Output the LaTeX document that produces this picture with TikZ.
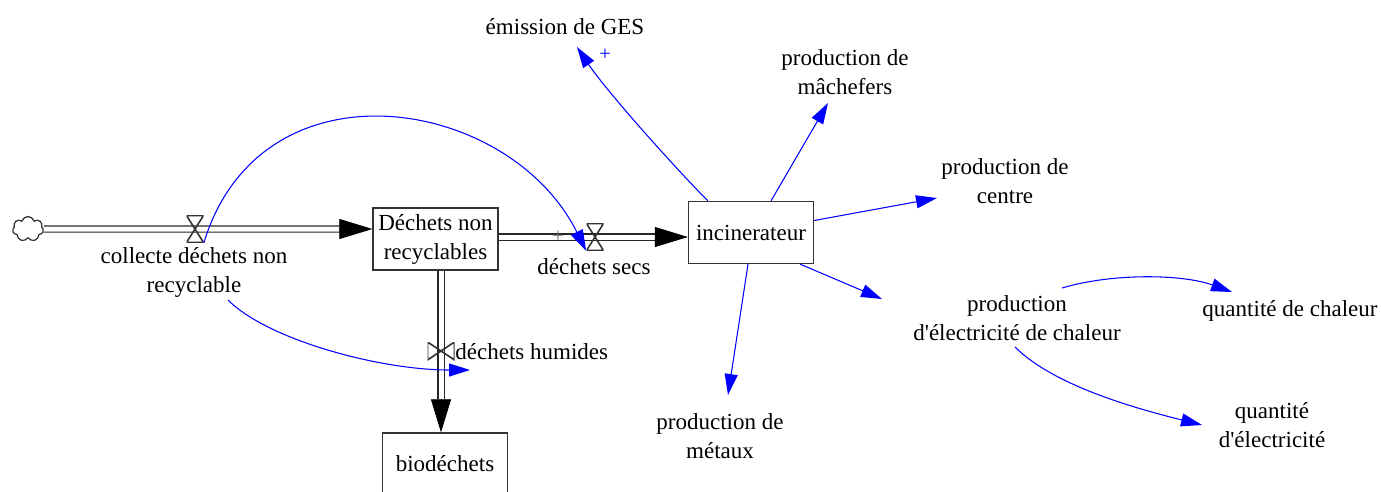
\documentclass[tikz,border=0pt]{standalone}
\usepackage{fontspec}
\newfontfamily\vensimfont{Liberation Serif}
\usetikzlibrary{arrows.meta,calc,shapes.symbols,backgrounds}

\tikzset{
  stockbox/.style={draw=black!80, line width=0.75pt, minimum width=2.5cm, minimum height=1.24cm, align=center, inner sep=1pt},
  lbl/.style={align=center, inner sep=0pt},
  pipe/.style={draw=black!85, line width=0.7pt, double=white, double distance=0.1cm},
  pipetip/.style={-{Triangle[length=0.66cm,width=0.4cm]}, line width=0.4pt, black},
  link/.style={blue, line width=0.6pt, -{Triangle[length=0.42cm,width=0.26cm]}},
  valvev/.style={minimum width=0.34cm, minimum height=0.54cm, inner sep=0pt,
    path picture={\draw[black!80, line width=0.9pt] (path picture bounding box.north west) -- (path picture bounding box.north east) -- (path picture bounding box.south west) -- (path picture bounding box.south east) -- cycle;}},
  valveh/.style={minimum width=0.54cm, minimum height=0.36cm, inner sep=0pt,
    path picture={\draw[black!80, line width=0.9pt] (path picture bounding box.north west) -- (path picture bounding box.south west) -- (path picture bounding box.north east) -- (path picture bounding box.south east) -- cycle;}},
}

\begin{document}
\begin{tikzpicture}[x=0.02cm, y=-0.02cm, font=\vensimfont\fontsize{13.1}{16.5}\selectfont]
  \useasboundingbox (0,0) rectangle (1381,491);

  % stocks and source
  \node[stockbox] (stock) at (435.5,239) {Déchets non\\recyclables};
  \node[stockbox] (inc) at (751,232.5) {incinerateur};
  \node[stockbox] (bio) at (445,464) {biodéchets};
  \node[cloud, draw=black!80, line width=0.7pt, cloud puffs=7, minimum width=0.62cm, minimum height=0.5cm, inner sep=0pt] (src) at (28,229) {};

  % valves
  \node[valvev] (vcol) at (195,229) {};
  \node[valvev] (vsec) at (595,237) {};
  \node[valveh] (vhum) at (441,351) {};

  % labels
  \node[lbl] (lcol) at (194,272) {collecte déchets non\\recyclable};
  \node[lbl] (lsec) at (594,267) {déchets secs};
  \node[lbl, anchor=west] (lhum) at (455,352) {déchets humides};
  \node[lbl, black!55, font=\vensimfont\fontsize{11.5}{12}\selectfont] (psec) at (558,237) {+};
  \node[lbl] (ges) at (565,27) {émission de GES};
  \node[lbl, blue, font=\vensimfont\fontsize{11.5}{12}\selectfont] (pges) at (605,55) {+};
  \node[lbl] (mach) at (845,72) {production de\\mâchefers};
  \node[lbl] (cent) at (1005,181) {production de\\centre};
  \node[lbl] (elec) at (1017,318) {production\\d'électricité de chaleur};
  \node[lbl] (chal) at (1290,311) {quantité de chaleur};
  \node[lbl] (qel) at (1272,425) {quantité\\d'électricité};
  \node[lbl] (met) at (720,436) {production de\\métaux};

  % pipes
  \coordinate (t1) at ($(stock.west |- vcol)+(-33,0)$);
  \coordinate (t2) at ($(inc.west |- vsec)+(-33,0)$);
  \coordinate (t3) at ($(vhum |- bio.north)+(0,-33)$);
  \begin{scope}[on background layer]
    \draw[pipe] (src.east) -- (t1);
    \draw[pipetip] (t1) -- (stock.west |- vcol);
    \draw[pipe] (stock.east |- vsec) -- (t2);
    \draw[pipetip] (t2) -- (inc.west |- vsec);
    \draw[pipe] (vhum |- stock.south) -- (t3);
    \draw[pipetip] (t3) -- (vhum |- bio.north);
  \end{scope}

  % links
  \draw[link] (vcol.south east) .. controls +(57,-187) and +(-77,-155) .. (vsec.south west);
  \draw[link] ($(lcol)+(34,28)$) .. controls +(40,40) and +(-90,0) .. ($(vhum)+(29,19)$);
  \draw[link] ($(inc.north west)+(20,0)$) .. controls +(-30,-30) and +(30,45) .. ($(ges)+(12,20)$);
  \draw[link] ($(inc.north)+(20,0)$) -- ($(mach)+(-17,31)$);
  \draw[link] ($(inc.east)+(0,-12)$) -- ($(cent)+(-68,17)$);
  \draw[link] ($(inc.south east)+(-14,0)$) -- ($(elec)+(-135,-19)$);
  \draw[link] ($(inc.south)+(-3,0)$) -- ($(met)+(8,-41)$);
  \draw[link] ($(elec)+(45,-30)$) .. controls +(50,-15) and +(-50,-18) .. ($(chal)+(-58,-19)$);
  \draw[link] ($(elec)+(-2,29)$) .. controls +(40,40) and +(-60,-15) .. ($(qel)+(-70,0)$);
\end{tikzpicture}
\end{document}
